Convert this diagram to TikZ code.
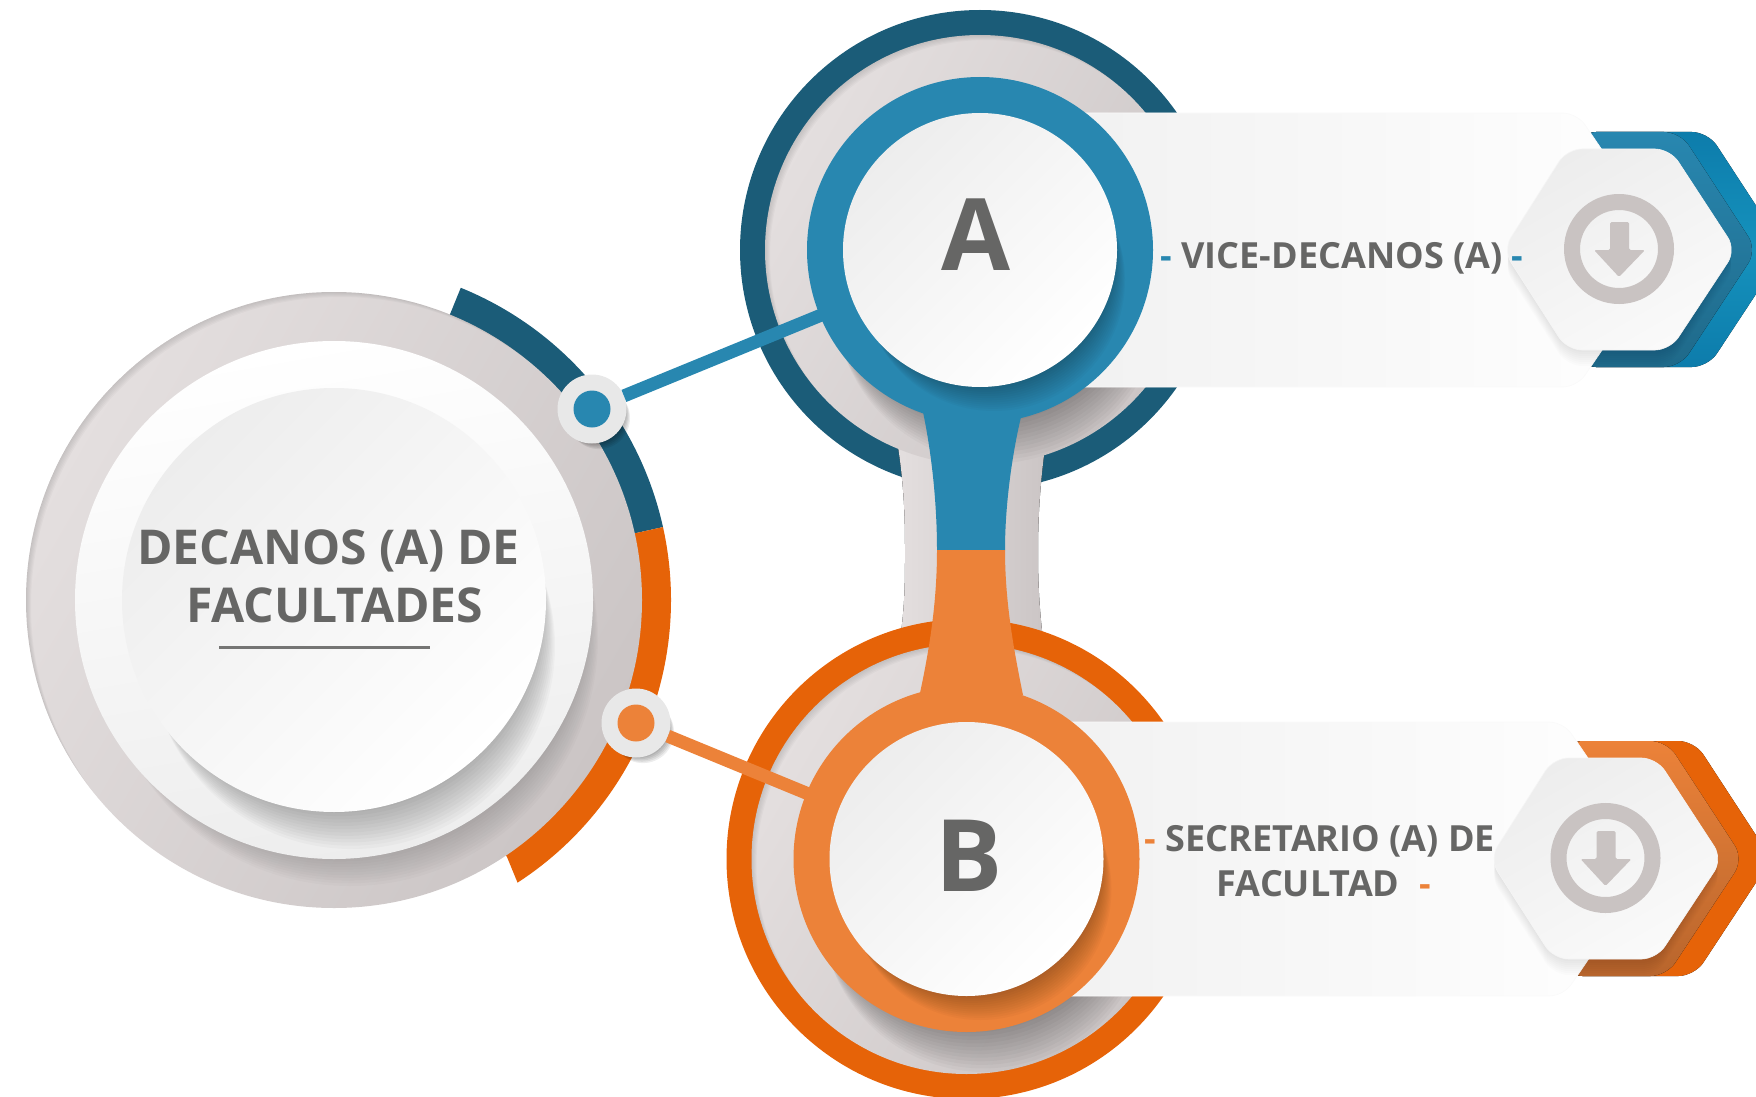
\documentclass[tikz,border=0pt]{standalone}
\usepackage{fontspec}
\setmainfont{Open Sans}
\usetikzlibrary{calc}
\definecolor{inktext}{HTML}{666665}
\definecolor{deepblue}{HTML}{1B5C78}
\definecolor{ringblue}{HTML}{2887B0}
\definecolor{brightblue}{HTML}{0D7CAB}
\definecolor{glowblue}{HTML}{1592BD}
\definecolor{deeporange}{HTML}{E66308}
\definecolor{ringorange}{HTML}{EC8239}
\definecolor{iconbeige}{HTML}{C9C3C2}
\definecolor{warmlight}{HTML}{E4DFDF}
\definecolor{warmdark}{HTML}{CBC5C5}
\tikzset{
  disc/.style={circle,inner sep=0pt,outer sep=0pt},
  greydisc/.style={disc,top color=warmlight,bottom color=warmdark,shading angle=60},
  paledisc/.style={disc,top color=#1,bottom color=white,shading angle=45},
  labeltext/.style={font=\bfseries\fontsize{36}{45}\selectfont,text=inktext,align=center,inner sep=0pt}
}
% soft shadow: clip centre, clip radius, radius, offset x, offset y, opacity
\newcommand{\softshadow}[6]{%
  \begin{scope}
    \clip (#1) circle (#2);
    \foreach \k in {1,...,14}
      \fill[black,opacity=#6] ($(#1)+({\k*#4/14},{\k*#5/14})$) circle (#3);
  \end{scope}}
% dark rim inside a disc, upper left side only
\newcommand{\softrim}[2]{%
  \begin{scope}
    \clip (#1) circle (#2);
    \foreach \k in {1,...,6}
      \fill[black,opacity=.022,even odd rule] (#1) circle ({#2+30}) ($(#1)+(\k,\k)$) circle ({#2+1});
  \end{scope}}
% one branch: name, centre, ring colour, back colour, back glow, stem
\newcommand{\branch}[7]{%
  \begin{scope}[shift={(#2,#3)}]
    \node[greydisc,minimum size=430pt] (grey#1) at (0,0) {};
    \softrim{grey#1.center}{215}
    \softshadow{grey#1.center}{215}{163}{18}{50}{.026}
    % back hexagons
    \fill[rounded corners=16pt,top color=#5,bottom color=#5,middle color=#6]
      (600,-118) -- (728,-118) -- (805,0) -- (728,117) -- (600,117) -- cycle;
    \fill[rounded corners=16pt,top color=#4,bottom color=black!22!#4]
      (600,-118) -- (700,-118) -- (777,0) -- (700,117) -- (600,117) -- cycle;
    % card behind the ring
    \shadedraw[draw=black!2,line width=.6pt,rounded corners=14pt,left color=black!6,right color=white]
      (20,-137) -- (597,-137) -- (690,0) -- (597,137) -- (20,137) -- cycle;
    \foreach \k in {1,...,8}
      \fill[rounded corners=15pt,black,opacity=.012,shift={(0,{2*\k})}]
        (587,-101) -- (690,-101) -- (756,0) -- (690,100) -- (587,100) -- (523,0) -- cycle;
    % front hexagon and icon
    \shadedraw[draw=black!4,line width=.6pt,rounded corners=15pt,top color=black!7,bottom color=black!2,shading angle=30]
      (587,-101) -- (690,-101) -- (756,0) -- (690,100) -- (587,100) -- (523,0) -- cycle;
    \node[disc,draw=iconbeige,line width=16pt,minimum size=94pt] (icon#1) at (639,-1) {};
    \fill[iconbeige,rounded corners=1.5pt]
      (630,-28) -- (649,-28) -- (649,0) -- (665,0) -- (639,27) -- (614,0) -- (630,0) -- cycle;
    % ring, stem and connector
    \node[disc,fill=#4,minimum size=346pt] (ring#1) at (0,0) {};
    \fill[#4] #7;
    \draw[#4,line width=13pt] (dot#1) -- (ring#1.center);
    \softshadow{ring#1.center}{173}{131}{14}{30}{.023}
    \begin{scope}
      \clip #7;
      \foreach \k in {1,...,14}
        \fill[black,opacity=.023] ({\k},{\k*30/14}) circle (131);
    \end{scope}
    \node[paledisc=black!7,minimum size=274pt] (face#1) at (0,0) {};
  \end{scope}}
\begin{document}
\begin{tikzpicture}[x=1pt,y=-1pt]
  \useasboundingbox (0,0) rectangle (1756,1097);
  \clip (0,0) rectangle (1756,1097);
  % left group
  \coordinate (hub) at (334,600);
  \fill[deepblue] (hub) -- ++(-67.9:337) arc (-67.9:-12.5:337) -- cycle;
  \fill[deeporange] (hub) -- ++(-12.5:337) arc (-12.5:57:337) -- (507,857) -- cycle;
  \node[greydisc,minimum size=616pt] (baseDisc) at (hub) {};
  \softrim{baseDisc.center}{308}
  \softshadow{baseDisc.center}{308}{248}{16}{38}{.016}
  \node[disc,top color=white,bottom color=black!7,shading angle=10,minimum size=518pt] (midDisc) at (hub) {};
  \softshadow{midDisc.center}{259}{203}{18}{46}{.024}
  \node[paledisc=black!7,minimum size=424pt] (topDisc) at (hub) {};
  % connector dots
  \foreach \name/\px/\py/\col in {A/592/409/ringblue,B/636/723/ringorange}{
    \foreach \k in {1,...,7}
      \fill[black,opacity=.07] (\px+\k,\py+1.3*\k) circle (31);
    \node[disc,fill=black!9,minimum size=69pt] (dot\name) at (\px,\py) {};
    \node[disc,fill=\col,minimum size=37pt] (pin\name) at (\px,\py) {};
  }
  % branch A
  \node[disc,fill=deepblue,minimum size=480pt] (haloA) at (980,250) {};
  \fill[left color=warmlight,right color=warmdark]
    (897,440) .. controls (905,490) and (905,525) .. (905,553)
    .. controls (905,580) and (905,605) .. (900,640) -- (1043,640)
    .. controls (1039,605) and (1038,580) .. (1038,553)
    .. controls (1038,525) and (1039,490) .. (1046,440) -- cycle;
  \branch{A}{980}{250}{ringblue}{brightblue}{glowblue}
    {(-57,162) .. controls (-48,205) and (-43,255) .. (-43,300) -- (25,300) .. controls (25,255) and (32,205) .. (41,167) -- cycle}
  % branch B
  \node[disc,fill=deeporange,minimum size=480pt] (haloB) at (966.5,859) {};
  \branch{B}{966.5}{859}{ringorange}{deeporange}{deeporange}
    {(-46.5,-166) .. controls (-36,-215) and (-29.5,-260) .. (-29.5,-309) -- (38.5,-309) .. controls (38.5,-260) and (46,-215) .. (56.5,-164) -- cycle}
  % texts
  \node[font=\bfseries\fontsize{48}{58}\selectfont,text=inktext,align=center,inner sep=0pt] (deanText) at (334.5,576)
    {DECANOS (A) DE\hspace*{12pt}\\FACULTADES};
  \node[inner sep=0pt,minimum width=211pt,minimum height=2.5pt,fill=inktext!90!white] (deanRule) at (324.5,647.5) {};
  \node[font=\bfseries\fontsize{100}{100}\selectfont,text=inktext,inner sep=0pt] (letterA) at (975.5,235) {A};
  \node[font=\bfseries\fontsize{100}{100}\selectfont,text=inktext,inner sep=0pt] (letterB) at (969,856) {B};
  \node[labeltext] (labelA) at (1342,258) {{\color{ringblue}-} VICE-DECANOS (A) {\color{ringblue}-}};
  \node[labeltext] (labelB) at (1320,861) {{\color{ringorange}-} SECRETARIO (A) DE\\\hspace*{8pt}FACULTAD\hspace*{20pt}{\color{ringorange}-}};
\end{tikzpicture}
\end{document}
